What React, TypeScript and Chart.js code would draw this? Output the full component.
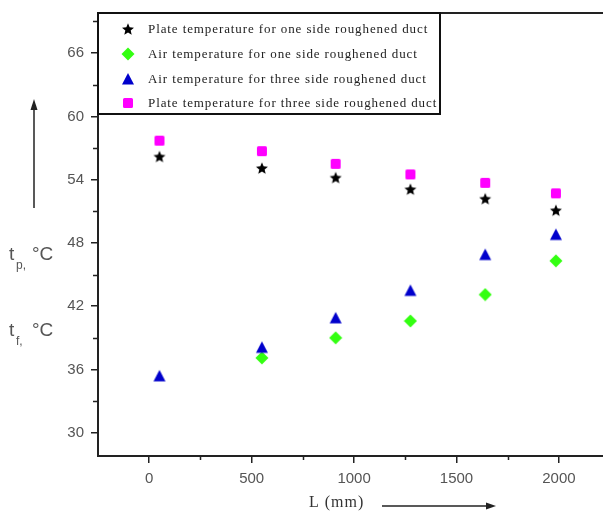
import React, { useEffect, useRef } from 'react';
import { Chart, registerables } from 'chart.js';

Chart.register(...registerables);

// ---- data ----
const lengths = [50, 550, 910, 1275, 1640, 1985];
const plateOneSide = [56.2, 55.1, 54.2, 53.1, 52.2, 51.1];
// first air value (one side) is hidden under the triangle in the reference
const airOneSide: (number | null)[] = [null, 37.1, 39.0, 40.6, 43.1, 46.3];
const airThreeSide = [35.4, 38.1, 40.9, 43.5, 46.9, 48.8];
const plateThreeSide = [57.7, 56.7, 55.5, 54.5, 53.7, 52.7];

const seriesNames = [
  'Plate temperature for one side roughened duct',
  'Air temperature for one side roughened duct',
  'Air temperature for three side roughened duct',
  'Plate temperature for three side roughened duct',
];

const xTicks = [0, 500, 1000, 1500, 2000];
const xMinorTicks = [250, 750, 1250, 1750];
const yTicks = [30, 36, 42, 48, 54, 60, 66];
const yMinorTicks = [33, 39, 45, 51, 57, 63, 69];

const xTitle = 'L (mm)';

type Kind = 'star' | 'diamond' | 'triangle' | 'square';

function makeMarker(kind: Kind, color: string): HTMLCanvasElement {
  const c = document.createElement('canvas');
  const s = 14;
  c.width = s;
  c.height = s;
  const ctx = c.getContext('2d')!;
  ctx.fillStyle = color;
  ctx.beginPath();
  const cx = s / 2;
  const cy = s / 2;
  if (kind === 'star') {
    for (let i = 0; i < 10; i++) {
      const r = i % 2 === 0 ? 6.3 : 2.8;
      const a = -Math.PI / 2 + (i * Math.PI) / 5;
      const px = cx + r * Math.cos(a);
      const py = cy + 0.6 + r * Math.sin(a);
      if (i === 0) ctx.moveTo(px, py);
      else ctx.lineTo(px, py);
    }
  } else if (kind === 'diamond') {
    ctx.moveTo(cx, cy - 6.5);
    ctx.lineTo(cx + 6.5, cy);
    ctx.lineTo(cx, cy + 6.5);
    ctx.lineTo(cx - 6.5, cy);
  } else if (kind === 'triangle') {
    ctx.moveTo(cx, cy - 6);
    ctx.lineTo(cx + 6, cy + 5.5);
    ctx.lineTo(cx - 6, cy + 5.5);
  } else {
    (ctx as any).roundRect(cx - 5, cy - 5, 10, 10, 1.5);
  }
  ctx.closePath();
  ctx.fill();
  return c;
}

export default function App() {
  const canvasRef = useRef<HTMLCanvasElement | null>(null);

  useEffect(() => {
    const canvas = canvasRef.current;
    if (!canvas) return;

    const markers = [
      makeMarker('star', '#000000'),
      makeMarker('diamond', '#33ff11'),
      makeMarker('triangle', '#0000cc'),
      makeMarker('square', '#ff00ff'),
    ];
    const seriesValues = [plateOneSide, airOneSide, airThreeSide, plateThreeSide];
    const orders = [0, 3, 2, 1];

    const decor = {
      id: 'decor',
      afterDraw(chart: any) {
        const ctx: CanvasRenderingContext2D = chart.ctx;
        const area = chart.chartArea;
        const xs = chart.scales.x;
        const ys = chart.scales.y;
        ctx.save();

        // top frame
        ctx.strokeStyle = '#222';
        ctx.lineWidth = 2;
        ctx.beginPath();
        ctx.moveTo(area.left, area.top);
        ctx.lineTo(area.right, area.top);
        ctx.stroke();

        // minor ticks
        ctx.lineWidth = 1.5;
        ctx.beginPath();
        xMinorTicks.forEach((v) => {
          const px = Math.round(xs.getPixelForValue(v)) + 0.5;
          ctx.moveTo(px, area.bottom);
          ctx.lineTo(px, area.bottom + 4);
        });
        yMinorTicks.forEach((v) => {
          const py = Math.round(ys.getPixelForValue(v)) + 0.5;
          ctx.moveTo(area.left, py);
          ctx.lineTo(area.left - 5, py);
        });
        ctx.stroke();

        // legend box
        const lx0 = area.left;
        const ly0 = area.top;
        const lx1 = 440;
        const ly1 = 114;
        ctx.fillStyle = '#fff';
        ctx.fillRect(lx0, ly0, lx1 - lx0, ly1 - ly0);
        ctx.strokeStyle = '#111';
        ctx.lineWidth = 2;
        ctx.strokeRect(lx0, ly0, lx1 - lx0, ly1 - ly0);
        const rows = [29, 53.5, 78.5, 102.5];
        ctx.font = '13px "Liberation Serif", "Times New Roman", serif';
        (ctx as any).letterSpacing = '0.9px';
        ctx.fillStyle = '#222';
        ctx.textBaseline = 'middle';
        ctx.textAlign = 'left';
        seriesNames.forEach((name, i) => {
          const m = markers[i];
          ctx.drawImage(m, 128 - m.width / 2, Math.round(rows[i] - m.height / 2));
          ctx.fillText(name, 148, rows[i] + 1);
        });

        // x title
        ctx.font = '16px "Liberation Serif", "Times New Roman", serif';
        (ctx as any).letterSpacing = '1px';
        ctx.fillStyle = '#333';
        ctx.textBaseline = 'alphabetic';
        ctx.fillText(xTitle, 309, 507);
        (ctx as any).letterSpacing = '0px';

        // x arrow
        ctx.strokeStyle = '#222';
        ctx.lineWidth = 1.5;
        ctx.beginPath();
        ctx.moveTo(382, 506);
        ctx.lineTo(488, 506);
        ctx.stroke();
        ctx.fillStyle = '#222';
        ctx.beginPath();
        ctx.moveTo(496, 506);
        ctx.lineTo(486, 502.5);
        ctx.lineTo(486, 509.5);
        ctx.closePath();
        ctx.fill();

        // y arrow
        ctx.beginPath();
        ctx.moveTo(34, 208);
        ctx.lineTo(34, 108);
        ctx.stroke();
        ctx.beginPath();
        ctx.moveTo(34, 99);
        ctx.lineTo(30.5, 110);
        ctx.lineTo(37.5, 110);
        ctx.closePath();
        ctx.fill();

        // y titles
        ctx.fillStyle = '#555';
        const drawYTitle = (sub: string, base: number) => {
          ctx.font = '19px "Liberation Sans", Arial, sans-serif';
          ctx.fillText('t', 9, base);
          ctx.font = '12px "Liberation Sans", Arial, sans-serif';
          ctx.fillText(sub, 16, base + 9);
          ctx.font = '19px "Liberation Sans", Arial, sans-serif';
          ctx.fillText('\u00B0C', 32, base);
        };
        drawYTitle('p,', 260);
        drawYTitle('f,', 336);

        ctx.restore();
      },
    };

    const chart = new Chart(canvas, {
      type: 'scatter',
      data: {
        datasets: seriesNames.map((name, i) => ({
          label: name,
          data: lengths.map((x, j) => ({ x, y: seriesValues[i][j] as any })),
          pointStyle: markers[i] as any,
          pointRadius: 7,
          pointHoverRadius: 7,
          order: orders[i],
          showLine: false,
        })),
      },
      options: {
        responsive: false,
        animation: false,
        events: [],
        layout: { autoPadding: false, padding: { top: 13, left: 0, right: 0, bottom: 0 } },
        plugins: {
          legend: { display: false },
          tooltip: { enabled: false },
          title: { display: false },
        },
        scales: {
          x: {
            type: 'linear',
            min: -250,
            max: 2215,
            afterBuildTicks: (s: any) => {
              s.ticks = xTicks.map((v) => ({ value: v }));
            },
            afterFit: (s: any) => {
              s.height = 56;
              s.paddingLeft = 0;
              s.paddingRight = 0;
            },
            grid: {
              drawOnChartArea: false,
              drawTicks: true,
              tickLength: 7,
              color: '#222',
              lineWidth: 1.5,
            },
            border: { display: true, color: '#222', width: 2 },
            ticks: {
              color: '#555',
              font: { size: 15, family: '"Liberation Sans", Arial, sans-serif' },
              padding: 7,
              maxRotation: 0,
              autoSkip: false,
              callback: (v: any) => String(v),
            },
          },
          y: {
            type: 'linear',
            min: 27.8,
            max: 69.8,
            afterBuildTicks: (s: any) => {
              s.ticks = yTicks.map((v) => ({ value: v }));
            },
            afterFit: (s: any) => {
              s.width = 98;
              s.paddingTop = 0;
              s.paddingBottom = 0;
            },
            grid: {
              drawOnChartArea: false,
              drawTicks: true,
              tickLength: 7,
              color: '#222',
              lineWidth: 1.5,
            },
            border: { display: true, color: '#222', width: 2 },
            ticks: {
              color: '#555',
              font: { size: 15, family: '"Liberation Sans", Arial, sans-serif' },
              padding: 7,
              autoSkip: false,
              callback: (v: any) => String(v),
            },
          },
        },
      },
      plugins: [decor],
    });

    return () => {
      chart.destroy();
    };
  }, []);

  return (
    <div style={{ position: 'fixed', left: 0, top: 0, width: 603, height: 512, background: '#fff' }}>
      <canvas ref={canvasRef} width={603} height={512} style={{ display: 'block', width: 603, height: 512 }} />
    </div>
  );
}
